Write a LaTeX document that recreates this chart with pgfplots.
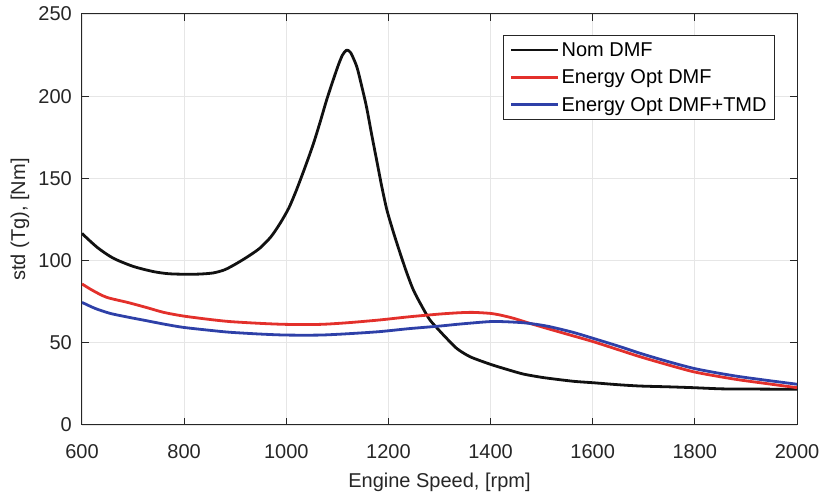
\documentclass[border=0pt]{standalone}
\usepackage{fontspec}
\setmainfont{Liberation Sans}
\usepackage{pgfplots}
\pgfplotsset{compat=1.18}
\definecolor{nomblack}{HTML}{111111}
\definecolor{optred}{HTML}{E3302B}
\definecolor{optblue}{HTML}{2E40A8}
\definecolor{gridgray}{HTML}{E6E6E6}
\definecolor{axgray}{HTML}{262626}

\begin{document}
\begin{tikzpicture}
\begin{axis}[
  scale only axis,
  width=715pt, height=411pt,
  xmin=600, xmax=2000,
  ymin=0, ymax=250,
  xtick={600,800,...,2000},
  ytick={0,50,...,250},
  grid=major,
  major grid style={color=gridgray, line width=0.8pt},
  axis line style={color=axgray, line width=1pt},
  tick style={color=axgray, line width=1pt},
  major tick length=7pt,
  tick align=inside,
  xlabel={Engine Speed, [rpm]},
  ylabel={std (Tg), [Nm]},
  every axis x label/.style={at={(axis description cs:0.5,-0.1509)}, anchor=base,
    font=\fontsize{20}{24}\selectfont, color=axgray},
  every axis y label/.style={at={(axis description cs:-0.0797,0.5)}, rotate=90, anchor=base,
    font=\fontsize{20}{24}\selectfont, color=axgray},
  ticklabel style={font=\fontsize{20}{24}\selectfont, color=axgray, inner sep=0pt},
  xticklabel style={anchor=north, yshift=-19pt},
  yticklabel style={anchor=east, xshift=-10pt},
  /pgf/number format/assume math mode=true,
  /pgf/number format/1000 sep={},
  legend style={
    at={(1,1)}, anchor=north east, xshift=-22pt, yshift=-21pt,
    draw=axgray, line width=0.8pt, fill=white,
    font=\fontsize{20}{24}\selectfont,
    row sep=8pt, inner xsep=6pt, inner ysep=5pt,
    cells={anchor=west},
  },
  legend image code/.code={\draw[#1, line width=2.8pt] (0pt,0pt) -- (47pt,0pt);},
  every axis plot/.append style={line width=2.8pt, line join=round, smooth, tension=0.45},
  extra description/.code={
    \path (axis description cs:0,0) ++(-82pt,-69pt);
    \path (axis description cs:1,1) ++(24pt,14pt);
  },
]
\addplot[color=nomblack] coordinates {
(600,116.5) (630,108) (661,101.5) (700,96.5) (740,93.3) (770,92) (802,91.7)
(830,91.8) (857,92.5) (880,94.5) (903,98.3) (925,102.5) (948,107.5) (970,114.5) (988,122.7)
(1005,132) (1020,143) (1037,157) (1053,171) (1066,184) (1079,197.7) (1092,210)
(1102,219) (1110,225) (1118,228) (1126,226.5) (1138,218) (1147,207) (1157,193.6)
(1167,177) (1177,161) (1187,145) (1197,130.8) (1210,117) (1223,104.4) (1236,92.5)
(1249,82) (1265,72.5) (1281,64) (1301,57) (1314,52.7) (1334,46.5) (1360,41.5)
(1399,37) (1430,34) (1464,31) (1500,29) (1529,27.8) (1565,26.5) (1601,25.7)
(1650,24.5) (1693,23.7) (1750,23.2) (1797,22.7) (1850,22) (1888,21.9) (1950,21.8)
(2000,21.7)
};
\addlegendentry{Nom DMF}
\addplot[color=optred] coordinates {
(600,85.8) (620,82) (648,77.7) (690,74.5) (727,71.4) (760,68.5) (798,66.3)
(850,64.2) (890,62.9) (950,61.8) (1001,61.2) (1066,61.2) (1120,62.2) (1183,63.9)
(1240,65.8) (1301,67.5) (1340,68.3) (1366,68.5) (1399,67.9) (1420,66.8) (1445,64.9)
(1475,62) (1510,58.8) (1555,54.8) (1601,50.7) (1650,45.8) (1693,41.5) (1745,36.8)
(1797,32.4) (1845,29.6) (1888,27.4) (1945,25) (2000,22.7)
};
\addlegendentry{Energy Opt DMF}
\addplot[color=optblue] coordinates {
(600,74.6) (625,71) (655,67.9) (690,65.6) (727,63.4) (760,61.4) (798,59.4)
(850,57.6) (890,56.4) (950,55.3) (1001,54.7) (1066,54.7) (1120,55.5) (1183,56.8)
(1240,58.6) (1301,60.2) (1340,61.4) (1399,62.9) (1430,62.8) (1464,62.2) (1490,61.2)
(1516,59.8) (1560,56.5) (1601,52.7) (1650,48) (1693,43.6) (1745,38.8) (1797,34.5)
(1845,31.6) (1888,29.4) (1945,27) (2000,24.8)
};
\addlegendentry{Energy Opt DMF+TMD}
\end{axis}
\end{tikzpicture}
\end{document}
